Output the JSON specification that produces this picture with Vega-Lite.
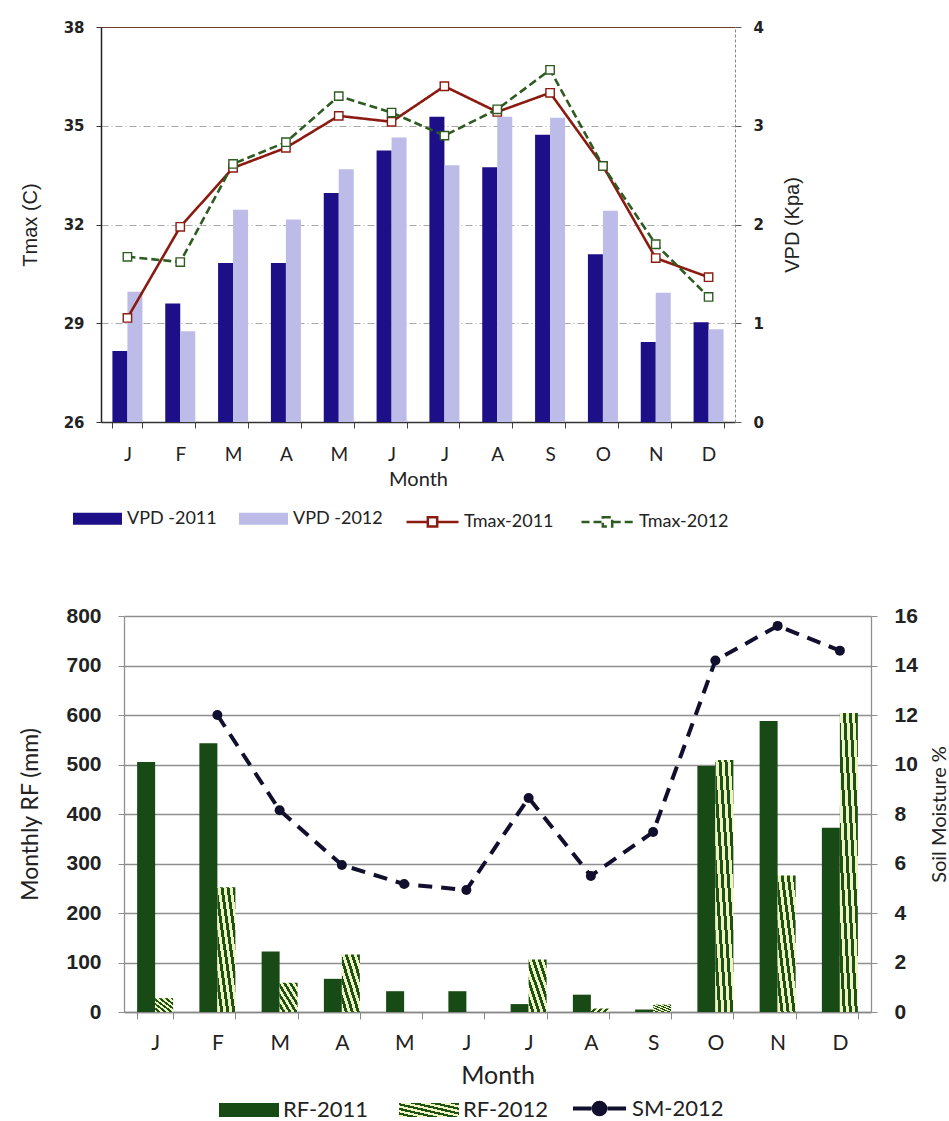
{
  "$schema": "https://vega.github.io/schema/vega-lite/v6.json",
  "background": "white",
  "padding": {"left": 19, "top": 20, "right": 0, "bottom": 0},
  "spacing": 73,
  "datasets": {
    "vpd": [
      {"month": "Jan", "series": "VPD -2011", "vpd": 0.72}, {"month": "Feb", "series": "VPD -2011", "vpd": 1.2},
      {"month": "Mar", "series": "VPD -2011", "vpd": 1.61}, {"month": "Apr", "series": "VPD -2011", "vpd": 1.61},
      {"month": "May", "series": "VPD -2011", "vpd": 2.32}, {"month": "Jun", "series": "VPD -2011", "vpd": 2.75},
      {"month": "Jul", "series": "VPD -2011", "vpd": 3.09}, {"month": "Aug", "series": "VPD -2011", "vpd": 2.58},
      {"month": "Sep", "series": "VPD -2011", "vpd": 2.91}, {"month": "Oct", "series": "VPD -2011", "vpd": 1.7},
      {"month": "Nov", "series": "VPD -2011", "vpd": 0.81}, {"month": "Dec", "series": "VPD -2011", "vpd": 1.01},
      {"month": "Jan", "series": "VPD -2012", "vpd": 1.32}, {"month": "Feb", "series": "VPD -2012", "vpd": 0.92},
      {"month": "Mar", "series": "VPD -2012", "vpd": 2.15}, {"month": "Apr", "series": "VPD -2012", "vpd": 2.05},
      {"month": "May", "series": "VPD -2012", "vpd": 2.56}, {"month": "Jun", "series": "VPD -2012", "vpd": 2.88},
      {"month": "Jul", "series": "VPD -2012", "vpd": 2.6}, {"month": "Aug", "series": "VPD -2012", "vpd": 3.09},
      {"month": "Sep", "series": "VPD -2012", "vpd": 3.08}, {"month": "Oct", "series": "VPD -2012", "vpd": 2.14},
      {"month": "Nov", "series": "VPD -2012", "vpd": 1.31}, {"month": "Dec", "series": "VPD -2012", "vpd": 0.94}
    ],
    "tmax": [
      {"month": "Jan", "series": "Tmax-2011", "tmax": 29.16}, {"month": "Feb", "series": "Tmax-2011", "tmax": 31.93},
      {"month": "Mar", "series": "Tmax-2011", "tmax": 33.72}, {"month": "Apr", "series": "Tmax-2011", "tmax": 34.33},
      {"month": "May", "series": "Tmax-2011", "tmax": 35.3}, {"month": "Jun", "series": "Tmax-2011", "tmax": 35.12},
      {"month": "Jul", "series": "Tmax-2011", "tmax": 36.2}, {"month": "Aug", "series": "Tmax-2011", "tmax": 35.42},
      {"month": "Sep", "series": "Tmax-2011", "tmax": 36.0}, {"month": "Oct", "series": "Tmax-2011", "tmax": 33.78},
      {"month": "Nov", "series": "Tmax-2011", "tmax": 30.98}, {"month": "Dec", "series": "Tmax-2011", "tmax": 30.4},
      {"month": "Jan", "series": "Tmax-2012", "tmax": 31.02}, {"month": "Feb", "series": "Tmax-2012", "tmax": 30.86},
      {"month": "Mar", "series": "Tmax-2012", "tmax": 33.84}, {"month": "Apr", "series": "Tmax-2012", "tmax": 34.5},
      {"month": "May", "series": "Tmax-2012", "tmax": 35.9}, {"month": "Jun", "series": "Tmax-2012", "tmax": 35.4},
      {"month": "Jul", "series": "Tmax-2012", "tmax": 34.7}, {"month": "Aug", "series": "Tmax-2012", "tmax": 35.5},
      {"month": "Sep", "series": "Tmax-2012", "tmax": 36.7}, {"month": "Oct", "series": "Tmax-2012", "tmax": 33.78},
      {"month": "Nov", "series": "Tmax-2012", "tmax": 31.4}, {"month": "Dec", "series": "Tmax-2012", "tmax": 29.8}
    ],
    "rf": [
      {"month": "Jan", "series": "RF-2011", "rf": 505}, {"month": "Feb", "series": "RF-2011", "rf": 543},
      {"month": "Mar", "series": "RF-2011", "rf": 122}, {"month": "Apr", "series": "RF-2011", "rf": 67},
      {"month": "May", "series": "RF-2011", "rf": 42}, {"month": "Jun", "series": "RF-2011", "rf": 42},
      {"month": "Jul", "series": "RF-2011", "rf": 16}, {"month": "Aug", "series": "RF-2011", "rf": 35},
      {"month": "Sep", "series": "RF-2011", "rf": 5}, {"month": "Oct", "series": "RF-2011", "rf": 497},
      {"month": "Nov", "series": "RF-2011", "rf": 588}, {"month": "Dec", "series": "RF-2011", "rf": 372},
      {"month": "Jan", "series": "RF-2012", "rf": 28}, {"month": "Feb", "series": "RF-2012", "rf": 252},
      {"month": "Mar", "series": "RF-2012", "rf": 59}, {"month": "Apr", "series": "RF-2012", "rf": 116},
      {"month": "May", "series": "RF-2012", "rf": 0}, {"month": "Jun", "series": "RF-2012", "rf": 0},
      {"month": "Jul", "series": "RF-2012", "rf": 106}, {"month": "Aug", "series": "RF-2012", "rf": 7},
      {"month": "Sep", "series": "RF-2012", "rf": 15}, {"month": "Oct", "series": "RF-2012", "rf": 509},
      {"month": "Nov", "series": "RF-2012", "rf": 276}, {"month": "Dec", "series": "RF-2012", "rf": 604}
    ],
    "sm": [
      {"month": "Feb", "series": "SM-2012", "sm": 12.0}, {"month": "Mar", "series": "SM-2012", "sm": 8.15},
      {"month": "Apr", "series": "SM-2012", "sm": 5.94}, {"month": "May", "series": "SM-2012", "sm": 5.17},
      {"month": "Jun", "series": "SM-2012", "sm": 4.93}, {"month": "Jul", "series": "SM-2012", "sm": 8.65},
      {"month": "Aug", "series": "SM-2012", "sm": 5.5}, {"month": "Sep", "series": "SM-2012", "sm": 7.27},
      {"month": "Oct", "series": "SM-2012", "sm": 14.2}, {"month": "Nov", "series": "SM-2012", "sm": 15.6},
      {"month": "Dec", "series": "SM-2012", "sm": 14.6}
    ]
  },
  "vconcat": [
    {
      "width": 634,
      "height": 395,
      "encoding": {
        "x": {
          "field": "month", "type": "nominal",
          "sort": ["Jan","Feb","Mar","Apr","May","Jun","Jul","Aug","Sep","Oct","Nov","Dec"],
          "scale": {"paddingInner": 0.43, "paddingOuter": 0.215},
          "title": "Month",
          "axis": {
            "labelExpr": "datum.value ? substring(datum.value, 0, 1) : ''", "labelAngle": 0,
            "labelFont": "Lato", "labelFontSize": 19, "labelColor": "#222", "labelPadding": 17,
            "tickBand": "extent", "tickSize": 6, "tickColor": "#444", "domainColor": "#333", "domainWidth": 1.5,
            "titleFont": "Lato", "titleFontSize": 20, "titleFontWeight": "normal", "titlePadding": 5, "titleColor": "#222"
          }
        }
      },
      "layer": [
        {
          "data": {"name": "vpd"},
          "encoding": {
            "y": {
              "field": "vpd", "type": "quantitative",
              "scale": {"domain": [0, 4], "nice": false},
              "axis": {
                "orient": "right", "title": "VPD (Kpa)", "values": [0, 1, 2, 3, 4], "grid": false,
                "labelFont": "DejaVu Sans", "labelFontWeight": "bold", "labelFontSize": 15, "labelColor": "#222", "labelPadding": 12,
                "tickSize": 6, "tickColor": "#555", "domainColor": "#888", "domainDash": [3, 2],
                "titleAngle": 270, "titleBaseline": "top", "titleFont": "Liberation Sans", "titleFontSize": 20, "titleFontWeight": "normal", "titleColor": "#222", "titlePadding": 19
              }
            },
            "fill": {
              "field": "series", "type": "nominal",
              "scale": {"domain": ["VPD -2011", "VPD -2012"], "range": ["#1c0f87", "#bdbce9"]},
              "legend": {
                "title": null, "orient": "bottom", "direction": "horizontal",
                "symbolType": "M-1,-0.245H1V0.245H-1Z", "symbolSize": 2401, "symbolStrokeWidth": 0,
                "labelFont": "Lato", "labelFontSize": 18, "labelColor": "#222", "labelOffset": 5,
                "columnPadding": 22, "offset": 5, "padding": 0
              }
            }
          },
          "layer": [
            {
              "transform": [{"filter": "datum.series === 'VPD -2011'"}],
              "mark": {"type": "bar", "width": 15, "xOffset": -7.5}
            },
            {
              "transform": [{"filter": "datum.series === 'VPD -2012'"}],
              "mark": {"type": "bar", "width": 15, "xOffset": 7.5}
            }
          ]
        },
        {
          "data": {"name": "tmax"},
          "encoding": {
            "y": {
              "field": "tmax", "type": "quantitative",
              "scale": {"domain": [26, 38], "nice": false, "zero": false},
              "axis": {
                "orient": "left", "title": "Tmax (C)", "values": [26, 29, 32, 35, 38],
                "grid": true,
                "gridColor": {"condition": {"test": "datum.value === 38", "value": "#6b3d2e"}, "value": "#a8a8a8"},
                "gridDash": {"condition": {"test": "datum.value === 38", "value": [1, 0]}, "value": [7, 3, 1, 3]},
                "gridWidth": 1.2,
                "labelFont": "DejaVu Sans", "labelFontWeight": "bold", "labelFontSize": 15, "labelColor": "#222", "labelPadding": 12,
                "tickSize": 5, "tickColor": "#333", "domainColor": "#222", "domainWidth": 1.5,
                "titleFont": "Liberation Sans", "titleFontSize": 20, "titleFontWeight": "normal", "titleColor": "#222", "titlePadding": 23
              }
            }
          },
          "layer": [
            {
              "mark": {"type": "line", "strokeWidth": 2.6},
              "encoding": {
                "stroke": {
                  "field": "series", "type": "nominal",
                  "scale": {"domain": ["Tmax-2011", "Tmax-2012"], "range": ["#8a1b11", "#2e5b22"]},
                  "legend": {
                    "title": " ", "titleOrient": "right", "titleFontSize": 1, "titlePadding": 34,
                    "orient": "bottom", "direction": "horizontal",
                    "symbolType": "M-1,0H-0.2M0.2,0H1M-0.18,-0.18H0.18V0.18H-0.18Z", "symbolSize": 2704, "symbolStrokeWidth": 2.5,
                    "labelFont": "Lato", "labelFontSize": 18, "labelColor": "#222", "labelOffset": 4,
                    "columnPadding": 22, "offset": 5, "padding": 0,
                    "encoding": {
                      "symbols": {
                        "fill": {"value": "white"},
                        "strokeDash": {"condition": {"test": "datum.value === 'Tmax-2012'", "value": [6, 3]}, "value": [1, 0]}
                      }
                    }
                  }
                },
                "strokeDash": {
                  "field": "series", "type": "nominal",
                  "scale": {"domain": ["Tmax-2011", "Tmax-2012"], "range": [[1, 0], [8, 4]]},
                  "legend": null
                }
              }
            },
            {
              "mark": {"type": "point", "shape": "square", "filled": true, "fill": "white", "size": 70, "strokeWidth": 1.4, "opacity": 1},
              "encoding": {
                "stroke": {"field": "series", "type": "nominal", "legend": null}
              }
            }
          ]
        }
      ],
      "resolve": {"scale": {"y": "independent"}}
    },
    {
      "width": 770,
      "height": 396,
      "encoding": {
        "x": {
          "field": "month", "type": "nominal",
          "sort": ["Jan","Feb","Mar","Apr","May","Jun","Jul","Aug","Sep","Oct","Nov","Dec"],
          "scale": {"range": [23, 770], "paddingInner": 0.42, "paddingOuter": 0.21},
          "title": "Month",
          "axis": {
            "labelExpr": "datum.value ? substring(datum.value, 0, 1) : ''", "labelAngle": 0,
            "labelFont": "Lato", "labelFontSize": 21, "labelColor": "#222", "labelPadding": 13,
            "tickBand": "extent", "tickSize": 7, "tickColor": "#888", "domainColor": "#888", "domainWidth": 1.5,
            "titleFont": "Lato", "titleFontSize": 25, "titleFontWeight": "normal", "titlePadding": 10, "titleColor": "#222"
          }
        }
      },
      "layer": [
        {
          "data": {"name": "rf"},
          "encoding": {
            "y": {
              "field": "rf", "type": "quantitative",
              "scale": {"domain": [0, 800], "nice": false},
              "axis": {
                "orient": "left", "offset": -23, "title": "Monthly RF (mm)", "values": [0, 100, 200, 300, 400, 500, 600, 700, 800],
                "grid": true, "gridColor": "#8f8f8f", "gridWidth": 1.3,
                "labelFont": "Liberation Sans", "labelFontWeight": "bold", "labelFontSize": 21, "labelColor": "#222", "labelPadding": 17,
                "tickSize": 6, "tickColor": "#8f8f8f", "domainColor": "#8f8f8f", "domainWidth": 1.3,
                "titleFont": "Lato", "titleFontSize": 23, "titleFontWeight": "normal", "titleColor": "#222", "titlePadding": 23
              }
            },
            "fill": {
              "field": "series", "type": "nominal",
              "scale": {
                "domain": ["RF-2011", "RF-2012"],
                "range": [
                  "#174a14",
                  {"expr": "{gradient: 'linear', x1: 1, y1: 0, x2: 0, y2: 1, stops: [{offset: 0, color: '#1f5016'}, {offset: 0.0833, color: '#1f5016'}, {offset: 0.0833, color: '#eef4bf'}, {offset: 0.1667, color: '#eef4bf'}, {offset: 0.1667, color: '#1f5016'}, {offset: 0.25, color: '#1f5016'}, {offset: 0.25, color: '#eef4bf'}, {offset: 0.3333, color: '#eef4bf'}, {offset: 0.3333, color: '#1f5016'}, {offset: 0.4167, color: '#1f5016'}, {offset: 0.4167, color: '#eef4bf'}, {offset: 0.5, color: '#eef4bf'}, {offset: 0.5, color: '#1f5016'}, {offset: 0.5833, color: '#1f5016'}, {offset: 0.5833, color: '#eef4bf'}, {offset: 0.6667, color: '#eef4bf'}, {offset: 0.6667, color: '#1f5016'}, {offset: 0.75, color: '#1f5016'}, {offset: 0.75, color: '#eef4bf'}, {offset: 0.8333, color: '#eef4bf'}, {offset: 0.8333, color: '#1f5016'}, {offset: 0.9167, color: '#1f5016'}, {offset: 0.9167, color: '#eef4bf'}, {offset: 1, color: '#eef4bf'}]}"}
                ]
              },
              "legend": {
                "title": null, "orient": "bottom", "direction": "horizontal",
                "symbolType": "M-1,-0.233H1V0.233H-1Z", "symbolSize": 3600, "symbolStrokeWidth": 0,
                "labelFont": "Lato", "labelFontSize": 22, "labelColor": "#222", "labelOffset": 4,
                "columnPadding": 30, "offset": -8, "padding": 0
              }
            }
          },
          "layer": [
            {
              "transform": [{"filter": "datum.series === 'RF-2011'"}],
              "mark": {"type": "bar", "width": 18, "xOffset": -9}
            },
            {
              "transform": [{"filter": "datum.series === 'RF-2012'"}],
              "mark": {"type": "bar", "width": 18, "xOffset": 9}
            }
          ]
        },
        {
          "data": {"name": "sm"},
          "encoding": {
            "y": {
              "field": "sm", "type": "quantitative",
              "scale": {"domain": [0, 16], "nice": false},
              "axis": {
                "orient": "right", "title": "Soil Moisture %", "values": [0, 2, 4, 6, 8, 10, 12, 14, 16], "grid": false,
                "labelFont": "Liberation Sans", "labelFontWeight": "bold", "labelFontSize": 21, "labelColor": "#222", "labelPadding": 17,
                "tickSize": 6, "tickColor": "#8f8f8f", "domainColor": "#8f8f8f", "domainWidth": 1.3,
                "titleAngle": 270, "titleBaseline": "top", "titleFont": "Lato", "titleFontSize": 20, "titleFontWeight": "normal", "titleColor": "#222", "titlePadding": 12
              }
            }
          },
          "layer": [
            {
              "mark": {"type": "line", "strokeWidth": 4, "strokeDash": [14, 9]},
              "encoding": {
                "stroke": {
                  "field": "series", "type": "nominal",
                  "scale": {"domain": ["SM-2012"], "range": ["#10102e"]},
                  "legend": {
                    "title": " ", "titleOrient": "right", "titleFontSize": 1, "titlePadding": 30,
                    "orient": "bottom", "direction": "horizontal",
                    "symbolType": "M-1,0H-0.3M0.3,0H1M0.22,0A0.22,0.22,0,1,1,-0.22,0A0.22,0.22,0,1,1,0.22,0Z", "symbolSize": 2809, "symbolStrokeWidth": 4,
                    "labelFont": "Lato", "labelFontSize": 22, "labelColor": "#222", "labelOffset": 4,
                    "offset": -8, "padding": 0,
                    "encoding": {"symbols": {"fill": {"value": "#10102e"}}}
                  }
                }
              }
            },
            {
              "mark": {"type": "circle", "size": 100, "color": "#10102e", "opacity": 1}
            }
          ]
        }
      ],
      "resolve": {"scale": {"y": "independent"}}
    }
  ],
  "resolve": {
    "scale": {"x": "independent", "fill": "independent", "stroke": "independent", "strokeDash": "independent"},
    "legend": {"fill": "independent", "stroke": "independent", "strokeDash": "independent"}
  },
  "config": {
    "view": {"stroke": null},
    "legend": {"layout": {"bottom": {"anchor": "middle", "direction": "horizontal", "margin": 22}}}
  }
}
